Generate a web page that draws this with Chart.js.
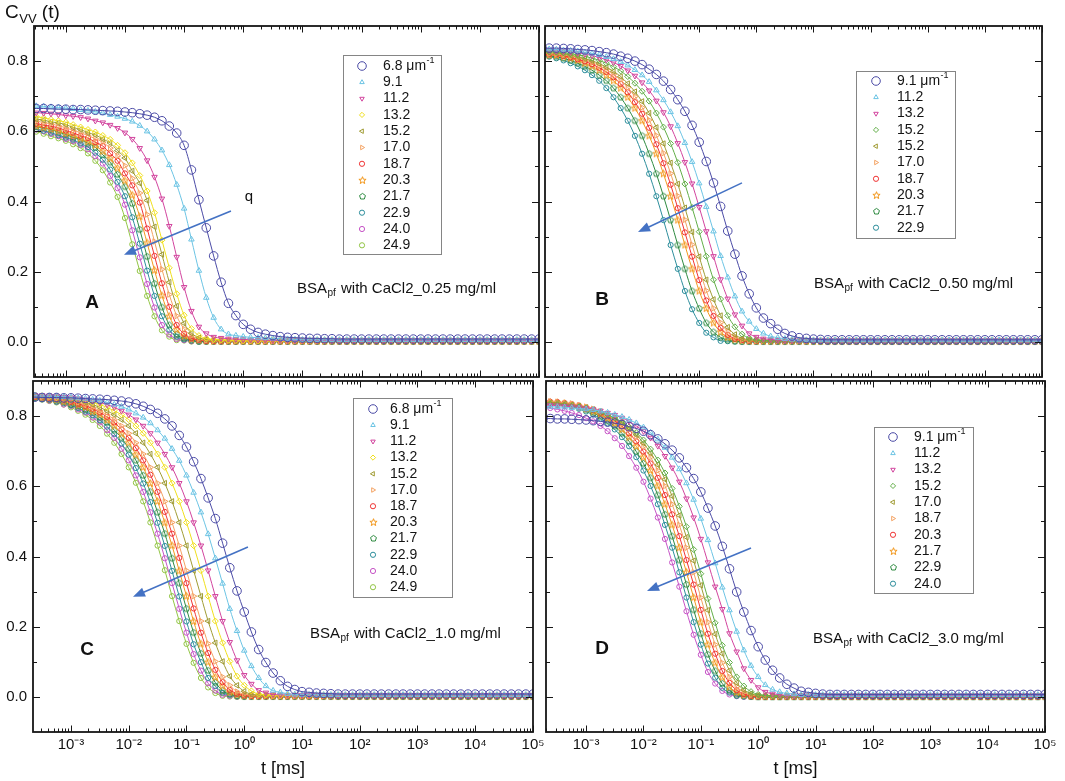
<!DOCTYPE html>
<html>
<head>
<meta charset="utf-8">
<title>C_VV(t) of BSA_pf with CaCl2</title>
<script src="https://cdn.jsdelivr.net/npm/chart.js@4.4.1/dist/chart.umd.min.js"></script>
<style>
  html, body { margin:0; padding:0; background:#ffffff; }
  #wrap { position:relative; width:1065px; height:781px; overflow:hidden; background:#ffffff; }
  #wrap canvas { position:absolute; left:0; top:0; }
</style>
</head>
<body>
<div id="wrap">
  <canvas id="panelA" width="1065" height="781"></canvas>
  <canvas id="panelB" width="1065" height="781"></canvas>
  <canvas id="panelC" width="1065" height="781"></canvas>
  <canvas id="panelD" width="1065" height="781"></canvas>
</div>
<script>
// ---------------- DATA ----------------
// delay time t [ms], 8 samples per decade
const tMs = [
 0.000178,0.000237,0.000316,0.000422,0.000562,0.00075,0.001,0.00133,0.00178,0.00237,
 0.00316,0.00422,0.00562,0.0075,0.01,0.0133,0.0178,0.0237,0.0316,0.0422,
 0.0562,0.075,0.1,0.133,0.178,0.237,0.316,0.422,0.562,0.75,
 1,1.33,1.78,2.37,3.16,4.22,5.62,7.5,10,13.3,
 17.8,23.7,31.6,42.2,56.2,75,100,133,178,237,
 316,422,562,750,1000,1330,1780,2370,3160,4220,
 5620,7500,10000,13300,17800,23700,31600,42200,56200,75000,
 100000];

// axis ticks / labels
const xDecades = [1e-4,1e-3,1e-2,1e-1,1,10,100,1e3,1e4,1e5];
const xMinorFactors = [2,3,4,5,6,7,8,9];
const xLabelValues = [1e-3,1e-2,1e-1,1,10,100,1e3,1e4,1e5];
const xTickLabels = ['10⁻³','10⁻²','10⁻¹','10⁰','10¹','10²','10³','10⁴','10⁵'];
const yTickValues = [0,0.2,0.4,0.6,0.8];
const yTickLabels = ['0.0','0.2','0.4','0.6','0.8'];
const yMinorValues = [0.1,0.3,0.5,0.7];
const xTitle = 't [ms]';

// ---- panel A : CaCl2 0.25 mg/ml (q in µm^-1)
const qA = ['6.8','9.1','11.2','13.2','15.2','17.0','18.7','20.3','21.7','22.9','24.0','24.9'];
const A_6_8 = [0.665,0.665,
 0.665,0.665,0.664,0.663,0.663,0.662,0.662,0.661,0.660,0.659,
 0.658,0.657,0.655,0.653,0.650,0.646,0.640,0.630,0.615,0.595,
 0.560,0.490,0.405,0.325,0.245,0.170,0.110,0.075,0.050,0.036,
 0.027,0.022,0.018,0.015,0.013,0.012,0.011,0.010,0.010,0.009,
 0.009,0.008,
 0.008,0.008,0.008,0.008,0.008,0.008,0.008,0.008,0.008,0.008,
 0.008,0.008,0.008,0.008,0.008,0.008,0.008,0.008,0.008,0.008,
 0.008,0.008,0.008,0.008,0.008,0.008,0.008];
const A_9_1 = [0.673,0.673,
 0.672,0.671,0.669,0.668,0.666,0.664,0.661,0.659,0.656,0.652,
 0.647,0.642,0.636,0.628,0.616,0.600,0.577,0.546,0.504,0.448,
 0.380,0.292,0.203,0.126,0.069,0.036,0.022,0.018,0.015,0.013,
 0.012,0.011,0.010,0.009,0.008,0.007,
 0.006,0.006,0.006,0.006,0.006,0.006,0.006,0.006,0.006,0.006,
 0.006,0.006,0.006,0.006,0.006,0.006,0.006,0.006,0.006,0.006,
 0.006,0.006,0.006,0.006,0.006,0.006,0.006,0.006,0.006,0.006,
 0.006,0.006,0.006];
const A_11_2 = [0.658,0.655,
 0.653,0.652,0.650,0.648,0.645,0.643,0.640,0.636,0.630,0.625,
 0.618,0.609,0.596,0.578,0.552,0.517,0.470,0.408,0.330,0.242,
 0.156,0.088,0.043,0.024,0.014,0.011,0.009,0.008,0.007,0.006,
 0.006,0.005,
 0.004,0.004,0.004,0.004,0.004,0.004,0.004,0.004,0.004,0.004,
 0.004,0.004,0.004,0.004,0.004,0.004,0.004,0.004,0.004,0.004,
 0.004,0.004,0.004,0.004,0.004,0.004,0.004,0.004,0.004,0.004,
 0.004,0.004,0.004,0.004,0.004,0.004,0.004];
const A_13_2 = [0.650,0.645,
 0.642,0.638,0.634,0.630,0.626,0.619,0.612,0.605,0.598,0.588,
 0.577,0.560,0.539,0.510,0.474,0.430,0.368,0.290,0.211,0.137,
 0.076,0.038,0.018,0.010,0.007,0.006,0.005,0.004,
 0.003,0.003,0.003,0.003,0.003,0.003,0.003,0.003,0.003,0.003,
 0.003,0.003,0.003,0.003,0.003,0.003,0.003,0.003,0.003,0.003,
 0.003,0.003,0.003,0.003,0.003,0.003,0.003,0.003,0.003,0.003,
 0.003,0.003,0.003,0.003,0.003,0.003,0.003,0.003,0.003,0.003,
 0.003];
const A_15_2 = [0.638,0.636,
 0.635,0.632,0.627,0.624,0.619,0.611,0.605,0.596,0.590,0.578,
 0.567,0.545,0.524,0.487,0.452,0.403,0.328,0.249,0.170,0.102,
 0.053,0.025,0.012,0.007,0.005,0.004,
 0.003,0.003,0.003,0.003,0.003,0.003,0.003,0.003,0.003,0.003,
 0.003,0.003,0.003,0.003,0.003,0.003,0.003,0.003,0.003,0.003,
 0.003,0.003,0.003,0.003,0.003,0.003,0.003,0.003,0.003,0.003,
 0.003,0.003,0.003,0.003,0.003,0.003,0.003,0.003,0.003,0.003,
 0.003,0.003,0.003];
const A_17_0 = [0.635,0.632,
 0.629,0.625,0.621,0.616,0.610,0.603,0.596,0.588,0.579,0.569,
 0.552,0.530,0.502,0.466,0.424,0.363,0.286,0.207,0.135,0.074,
 0.037,0.018,0.008,0.005,
 0.003,0.003,0.003,0.003,0.003,0.003,0.003,0.003,0.003,0.003,
 0.003,0.003,0.003,0.003,0.003,0.003,0.003,0.003,0.003,0.003,
 0.003,0.003,0.003,0.003,0.003,0.003,0.003,0.003,0.003,0.003,
 0.003,0.003,0.003,0.003,0.003,0.003,0.003,0.003,0.003,0.003,
 0.003,0.003,0.003,0.003,0.003];
const A_18_7 = [0.632,0.626,
 0.622,0.618,0.614,0.610,0.602,0.596,0.587,0.581,0.569,0.558,
 0.537,0.516,0.480,0.446,0.397,0.323,0.245,0.167,0.100,0.048,
 0.023,0.010,0.006,0.003,
 0.002,0.002,0.002,0.002,0.002,0.002,0.002,0.002,0.002,0.002,
 0.002,0.002,0.002,0.002,0.002,0.002,0.002,0.002,0.002,0.002,
 0.002,0.002,0.002,0.002,0.002,0.002,0.002,0.002,0.002,0.002,
 0.002,0.002,0.002,0.002,0.002,0.002,0.002,0.002,0.002,0.002,
 0.002,0.002,0.002,0.002,0.002];
const A_20_3 = [0.624,0.618,
 0.615,0.611,0.606,0.601,0.594,0.587,0.579,0.570,0.560,0.543,
 0.522,0.495,0.459,0.418,0.357,0.282,0.204,0.132,0.073,0.035,
 0.016,0.008,0.005,0.003,
 0.002,0.002,0.002,0.002,0.002,0.002,0.002,0.002,0.002,0.002,
 0.002,0.002,0.002,0.002,0.002,0.002,0.002,0.002,0.002,0.002,
 0.002,0.002,0.002,0.002,0.002,0.002,0.002,0.002,0.002,0.002,
 0.002,0.002,0.002,0.002,0.002,0.002,0.002,0.002,0.002,0.002,
 0.002,0.002,0.002,0.002,0.002];
const A_21_7 = [0.622,0.616,
 0.613,0.610,0.605,0.598,0.591,0.583,0.576,0.566,0.554,0.533,
 0.512,0.477,0.442,0.394,0.320,0.243,0.166,0.099,0.048,0.021,
 0.010,0.005,
 0.002,0.002,0.002,0.002,0.002,0.002,0.002,0.002,0.002,0.002,
 0.002,0.002,0.002,0.002,0.002,0.002,0.002,0.002,0.002,0.002,
 0.002,0.002,0.002,0.002,0.002,0.002,0.002,0.002,0.002,0.002,
 0.002,0.002,0.002,0.002,0.002,0.002,0.002,0.002,0.002,0.002,
 0.002,0.002,0.002,0.002,0.002,0.002,0.002];
const A_22_9 = [0.616,0.609,
 0.606,0.602,0.596,0.589,0.582,0.576,0.565,0.555,0.539,0.519,
 0.491,0.456,0.415,0.355,0.280,0.203,0.131,0.073,0.035,0.015,
 0.007,0.004,
 0.001,0.001,0.001,0.001,0.001,0.001,0.001,0.001,0.001,0.001,
 0.001,0.001,0.001,0.001,0.001,0.001,0.001,0.001,0.001,0.001,
 0.001,0.001,0.001,0.001,0.001,0.001,0.001,0.001,0.001,0.001,
 0.001,0.001,0.001,0.001,0.001,0.001,0.001,0.001,0.001,0.001,
 0.001,0.001,0.001,0.001,0.001,0.001,0.001];
const A_24_0 = [0.614,0.608,
 0.605,0.600,0.593,0.586,0.578,0.572,0.561,0.549,0.529,0.508,
 0.473,0.438,0.391,0.318,0.241,0.165,0.098,0.048,0.021,0.008,
 0.005,0.002,
 0.001,0.001,0.001,0.001,0.001,0.001,0.001,0.001,0.001,0.001,
 0.001,0.001,0.001,0.001,0.001,0.001,0.001,0.001,0.001,0.001,
 0.001,0.001,0.001,0.001,0.001,0.001,0.001,0.001,0.001,0.001,
 0.001,0.001,0.001,0.001,0.001,0.001,0.001,0.001,0.001,0.001,
 0.001,0.001,0.001,0.001,0.001,0.001,0.001];
const A_24_9 = [0.608,0.602,
 0.599,0.593,0.586,0.580,0.573,0.563,0.552,0.537,0.516,0.489,
 0.454,0.413,0.353,0.278,0.202,0.131,0.073,0.033,0.015,0.005,
 0.004,0.001,
 0,0,0,0,0,0,0,0,0,0,
 0,0,0,0,0,0,0,0,0,0,
 0,0,0,0,0,0,0,0,0,0,
 0,0,0,0,0,0,0,0,0,0,
 0,0,0,0,0,0,0];

// ---- panel B : CaCl2 0.50 mg/ml
const qB = ['9.1','11.2','13.2','15.2','15.2','17.0','18.7','20.3','21.7','22.9'];
const B_9_1 = [0.837,0.837,
 0.837,0.836,0.835,0.833,0.832,0.830,0.827,0.824,0.820,0.814,
 0.808,0.800,0.790,0.777,0.762,0.743,0.719,0.690,0.657,0.617,
 0.569,0.514,0.453,0.386,0.316,0.250,0.188,0.137,0.097,0.068,
 0.052,0.036,0.024,0.017,0.012,0.010,0.008,0.007,
 0.006,0.006,0.006,0.006,0.006,0.006,0.006,0.006,0.006,0.006,
 0.006,0.006,0.006,0.006,0.006,0.006,0.006,0.006,0.006,0.006,
 0.006,0.006,0.006,0.006,0.006,0.006,0.006,0.006,0.006,0.006,
 0.006];
const B_11_2 = [0.835,0.834,
 0.833,0.831,0.830,0.828,0.825,0.822,0.818,0.812,0.806,0.798,
 0.788,0.775,0.760,0.741,0.717,0.689,0.655,0.615,0.567,0.513,
 0.452,0.385,0.315,0.245,0.184,0.130,0.087,0.058,0.037,0.024,
 0.016,0.012,0.009,0.007,
 0.005,0.005,0.005,0.005,0.005,0.005,0.005,0.005,0.005,0.005,
 0.005,0.005,0.005,0.005,0.005,0.005,0.005,0.005,0.005,0.005,
 0.005,0.005,0.005,0.005,0.005,0.005,0.005,0.005,0.005,0.005,
 0.005,0.005,0.005,0.005,0.005];
const B_13_2 = [0.832,0.831,
 0.829,0.828,0.826,0.823,0.820,0.816,0.810,0.804,0.796,0.786,
 0.773,0.758,0.739,0.716,0.687,0.654,0.614,0.566,0.512,0.451,
 0.384,0.315,0.244,0.178,0.123,0.078,0.046,0.024,0.014,0.009,
 0.007,0.005,
 0.004,0.004,0.004,0.004,0.004,0.004,0.004,0.004,0.004,0.004,
 0.004,0.004,0.004,0.004,0.004,0.004,0.004,0.004,0.004,0.004,
 0.004,0.004,0.004,0.004,0.004,0.004,0.004,0.004,0.004,0.004,
 0.004,0.004,0.004,0.004,0.004,0.004,0.004];
const B_15_2d = [0.828,0.827,
 0.826,0.824,0.821,0.818,0.814,0.808,0.802,0.794,0.784,0.772,
 0.756,0.737,0.714,0.686,0.652,0.612,0.565,0.511,0.450,0.383,
 0.314,0.244,0.177,0.122,0.075,0.043,0.022,0.011,0.006,0.004,
 0.003,0.003,0.003,0.003,0.003,0.003,0.003,0.003,0.003,0.003,
 0.003,0.003,0.003,0.003,0.003,0.003,0.003,0.003,0.003,0.003,
 0.003,0.003,0.003,0.003,0.003,0.003,0.003,0.003,0.003,0.003,
 0.003,0.003,0.003,0.003,0.003,0.003,0.003,0.003,0.003];
const B_15_2o = [0.824,0.824,
 0.823,0.821,0.817,0.813,0.807,0.801,0.793,0.783,0.771,0.756,
 0.736,0.713,0.685,0.652,0.611,0.565,0.510,0.450,0.382,0.313,
 0.243,0.177,0.121,0.075,0.042,0.021,0.010,0.006,0.004,0.003,
 0.003,0.003,0.003,0.003,0.003,0.003,0.003,0.003,0.003,0.003,
 0.003,0.003,0.003,0.003,0.003,0.003,0.003,0.003,0.003,0.003,
 0.003,0.003,0.003,0.003,0.003,0.003,0.003,0.003,0.003,0.003,
 0.003,0.003,0.003,0.003,0.003,0.003,0.003,0.003,0.003];
const B_17_0 = [0.821,0.821,
 0.820,0.818,0.814,0.810,0.804,0.796,0.787,0.776,0.762,0.746,
 0.725,0.699,0.668,0.632,0.588,0.538,0.480,0.416,0.348,0.277,
 0.209,0.146,0.096,0.055,0.030,0.014,0.006,0.004,
 0.003,0.003,0.003,0.003,0.003,0.003,0.003,0.003,0.003,0.003,
 0.003,0.003,0.003,0.003,0.003,0.003,0.003,0.003,0.003,0.003,
 0.003,0.003,0.003,0.003,0.003,0.003,0.003,0.003,0.003,0.003,
 0.003,0.003,0.003,0.003,0.003,0.003,0.003,0.003,0.003,0.003,
 0.003];
const B_18_7 = [0.819,0.819,
 0.819,0.815,0.811,0.805,0.799,0.791,0.781,0.769,0.754,0.735,
 0.711,0.683,0.650,0.610,0.563,0.509,0.448,0.381,0.312,0.243,
 0.176,0.118,0.074,0.040,0.020,0.009,0.005,0.003,
 0.002,0.002,0.002,0.002,0.002,0.002,0.002,0.002,0.002,0.002,
 0.002,0.002,0.002,0.002,0.002,0.002,0.002,0.002,0.002,0.002,
 0.002,0.002,0.002,0.002,0.002,0.002,0.002,0.002,0.002,0.002,
 0.002,0.002,0.002,0.002,0.002,0.002,0.002,0.002,0.002,0.002,
 0.002];
const B_20_3 = [0.817,0.817,
 0.816,0.812,0.808,0.802,0.794,0.785,0.774,0.760,0.744,0.723,
 0.697,0.666,0.630,0.587,0.536,0.479,0.415,0.347,0.276,0.208,
 0.145,0.095,0.054,0.028,0.013,0.006,0.003,0.002,
 0.002,0.002,0.002,0.002,0.002,0.002,0.002,0.002,0.002,0.002,
 0.002,0.002,0.002,0.002,0.002,0.002,0.002,0.002,0.002,0.002,
 0.002,0.002,0.002,0.002,0.002,0.002,0.002,0.002,0.002,0.002,
 0.002,0.002,0.002,0.002,0.002,0.002,0.002,0.002,0.002,0.002,
 0.002];
const B_21_7 = [0.817,0.815,
 0.812,0.808,0.802,0.794,0.785,0.774,0.760,0.744,0.723,0.697,
 0.666,0.630,0.587,0.536,0.479,0.415,0.347,0.276,0.208,0.145,
 0.095,0.054,0.028,0.013,0.005,0.002,
 0.001,0.001,0.001,0.001,0.001,0.001,0.001,0.001,0.001,0.001,
 0.001,0.001,0.001,0.001,0.001,0.001,0.001,0.001,0.001,0.001,
 0.001,0.001,0.001,0.001,0.001,0.001,0.001,0.001,0.001,0.001,
 0.001,0.001,0.001,0.001,0.001,0.001,0.001,0.001,0.001,0.001,
 0.001,0.001,0.001];
const B_22_9 = [0.816,0.813,
 0.808,0.802,0.794,0.785,0.774,0.760,0.744,0.723,0.697,0.666,
 0.630,0.587,0.536,0.479,0.415,0.347,0.276,0.208,0.145,0.093,
 0.054,0.026,0.013,0.003,0.002,0.001,
 0,0,0,0,0,0,0,0,0,0,
 0,0,0,0,0,0,0,0,0,0,
 0,0,0,0,0,0,0,0,0,0,
 0,0,0,0,0,0,0,0,0,0,
 0,0,0];

// ---- panel C : CaCl2 1.0 mg/ml
const qC = ['6.8','9.1','11.2','13.2','15.2','17.0','18.7','20.3','21.7','22.9','24.0','24.9'];
const C_6_8 = [0.854,0.854,
 0.853,0.853,0.853,0.852,0.852,0.851,0.850,0.849,0.848,0.847,
 0.845,0.843,0.840,0.835,0.828,0.819,0.808,0.792,0.772,0.745,
 0.712,0.670,0.622,0.567,0.508,0.438,0.368,0.302,0.242,0.185,
 0.135,0.098,0.068,0.046,0.030,0.021,0.015,0.013,0.011,0.010,
 0.009,0.008,
 0.008,0.008,0.008,0.008,0.008,0.008,0.008,0.008,0.008,0.008,
 0.008,0.008,0.008,0.008,0.008,0.008,0.008,0.008,0.008,0.008,
 0.008,0.008,0.008,0.008,0.008,0.008,0.008];
const C_9_1 = [0.858,0.858,
 0.857,0.857,0.856,0.855,0.853,0.851,0.850,0.847,0.844,0.839,
 0.833,0.827,0.819,0.808,0.796,0.780,0.760,0.736,0.707,0.673,
 0.631,0.582,0.526,0.464,0.395,0.323,0.251,0.188,0.132,0.088,
 0.054,0.031,0.018,0.013,0.009,0.007,
 0.006,0.006,0.006,0.006,0.006,0.006,0.006,0.006,0.006,0.006,
 0.006,0.006,0.006,0.006,0.006,0.006,0.006,0.006,0.006,0.006,
 0.006,0.006,0.006,0.006,0.006,0.006,0.006,0.006,0.006,0.006,
 0.006,0.006,0.006];
const C_11_2 = [0.859,0.859,
 0.859,0.858,0.856,0.854,0.853,0.850,0.847,0.843,0.839,0.833,
 0.825,0.815,0.804,0.790,0.772,0.751,0.724,0.692,0.654,0.609,
 0.557,0.497,0.431,0.360,0.287,0.216,0.156,0.104,0.062,0.037,
 0.019,0.012,0.007,0.006,
 0.005,0.005,0.005,0.005,0.005,0.005,0.005,0.005,0.005,0.005,
 0.005,0.005,0.005,0.005,0.005,0.005,0.005,0.005,0.005,0.005,
 0.005,0.005,0.005,0.005,0.005,0.005,0.005,0.005,0.005,0.005,
 0.005,0.005,0.005,0.005,0.005];
const C_13_2 = [0.859,0.859,
 0.858,0.856,0.854,0.853,0.850,0.847,0.843,0.839,0.833,0.825,
 0.815,0.804,0.790,0.772,0.751,0.724,0.692,0.654,0.609,0.557,
 0.497,0.431,0.360,0.287,0.216,0.154,0.101,0.059,0.033,0.017,
 0.008,0.006,
 0.004,0.004,0.004,0.004,0.004,0.004,0.004,0.004,0.004,0.004,
 0.004,0.004,0.004,0.004,0.004,0.004,0.004,0.004,0.004,0.004,
 0.004,0.004,0.004,0.004,0.004,0.004,0.004,0.004,0.004,0.004,
 0.004,0.004,0.004,0.004,0.004,0.004,0.004];
const C_15_2 = [0.859,0.858,
 0.856,0.854,0.853,0.850,0.847,0.843,0.839,0.833,0.825,0.815,
 0.804,0.790,0.772,0.751,0.724,0.692,0.654,0.609,0.557,0.497,
 0.431,0.360,0.287,0.216,0.154,0.101,0.059,0.033,0.016,0.008,
 0.005,0.004,
 0.003,0.003,0.003,0.003,0.003,0.003,0.003,0.003,0.003,0.003,
 0.003,0.003,0.003,0.003,0.003,0.003,0.003,0.003,0.003,0.003,
 0.003,0.003,0.003,0.003,0.003,0.003,0.003,0.003,0.003,0.003,
 0.003,0.003,0.003,0.003,0.003,0.003,0.003];
const C_17_0 = [0.858,0.856,
 0.854,0.853,0.850,0.847,0.843,0.839,0.833,0.825,0.815,0.804,
 0.790,0.772,0.751,0.724,0.692,0.654,0.609,0.557,0.497,0.431,
 0.360,0.287,0.216,0.152,0.101,0.057,0.033,0.015,0.008,0.004,
 0.003,0.003,0.003,0.003,0.003,0.003,0.003,0.003,0.003,0.003,
 0.003,0.003,0.003,0.003,0.003,0.003,0.003,0.003,0.003,0.003,
 0.003,0.003,0.003,0.003,0.003,0.003,0.003,0.003,0.003,0.003,
 0.003,0.003,0.003,0.003,0.003,0.003,0.003,0.003,0.003];
const C_18_7 = [0.856,0.855,
 0.853,0.852,0.849,0.846,0.841,0.835,0.829,0.821,0.810,0.798,
 0.782,0.762,0.738,0.709,0.674,0.633,0.584,0.527,0.465,0.396,
 0.324,0.252,0.183,0.125,0.077,0.042,0.020,0.009,0.004,0.003,
 0.002,0.002,0.002,0.002,0.002,0.002,0.002,0.002,0.002,0.002,
 0.002,0.002,0.002,0.002,0.002,0.002,0.002,0.002,0.002,0.002,
 0.002,0.002,0.002,0.002,0.002,0.002,0.002,0.002,0.002,0.002,
 0.002,0.002,0.002,0.002,0.002,0.002,0.002,0.002,0.002];
const C_20_3 = [0.856,0.855,
 0.853,0.848,0.847,0.841,0.839,0.831,0.825,0.813,0.804,0.788,
 0.772,0.749,0.724,0.690,0.654,0.608,0.557,0.496,0.431,0.359,
 0.287,0.215,0.151,0.099,0.056,0.031,0.013,0.006,0.003,0.002,
 0.002,0.002,0.002,0.002,0.002,0.002,0.002,0.002,0.002,0.002,
 0.002,0.002,0.002,0.002,0.002,0.002,0.002,0.002,0.002,0.002,
 0.002,0.002,0.002,0.002,0.002,0.002,0.002,0.002,0.002,0.002,
 0.002,0.002,0.002,0.002,0.002,0.002,0.002,0.002,0.002];
const C_21_7 = [0.855,0.852,
 0.850,0.849,0.844,0.841,0.833,0.829,0.819,0.810,0.796,0.782,
 0.760,0.738,0.707,0.674,0.631,0.584,0.526,0.465,0.395,0.324,
 0.251,0.183,0.124,0.075,0.041,0.018,0.008,0.003,
 0.001,0.001,0.001,0.001,0.001,0.001,0.001,0.001,0.001,0.001,
 0.001,0.001,0.001,0.001,0.001,0.001,0.001,0.001,0.001,0.001,
 0.001,0.001,0.001,0.001,0.001,0.001,0.001,0.001,0.001,0.001,
 0.001,0.001,0.001,0.001,0.001,0.001,0.001,0.001,0.001,0.001,
 0.001];
const C_22_9 = [0.856,0.852,
 0.848,0.846,0.841,0.837,0.831,0.823,0.813,0.802,0.788,0.770,
 0.749,0.722,0.690,0.652,0.608,0.555,0.496,0.430,0.359,0.286,
 0.215,0.150,0.099,0.054,0.031,0.012,0.006,0.002,
 0.001,0.001,0.001,0.001,0.001,0.001,0.001,0.001,0.001,0.001,
 0.001,0.001,0.001,0.001,0.001,0.001,0.001,0.001,0.001,0.001,
 0.001,0.001,0.001,0.001,0.001,0.001,0.001,0.001,0.001,0.001,
 0.001,0.001,0.001,0.001,0.001,0.001,0.001,0.001,0.001,0.001,
 0.001];
const C_24_0 = [0.855,0.852,
 0.849,0.844,0.841,0.833,0.829,0.819,0.810,0.796,0.782,0.760,
 0.738,0.707,0.674,0.631,0.584,0.526,0.465,0.395,0.324,0.251,
 0.183,0.122,0.075,0.039,0.018,0.006,0.003,0.001,
 0.001,0.001,0.001,0.001,0.001,0.001,0.001,0.001,0.001,0.001,
 0.001,0.001,0.001,0.001,0.001,0.001,0.001,0.001,0.001,0.001,
 0.001,0.001,0.001,0.001,0.001,0.001,0.001,0.001,0.001,0.001,
 0.001,0.001,0.001,0.001,0.001,0.001,0.001,0.001,0.001,0.001,
 0.001];
const C_24_9 = [0.855,0.851,
 0.847,0.843,0.839,0.833,0.825,0.815,0.804,0.789,0.772,0.750,
 0.724,0.692,0.654,0.610,0.557,0.497,0.431,0.361,0.287,0.216,
 0.151,0.097,0.054,0.027,0.011,0.003,0.001,0,
 0,0,0,0,0,0,0,0,0,0,
 0,0,0,0,0,0,0,0,0,0,
 0,0,0,0,0,0,0,0,0,0,
 0,0,0,0,0,0,0,0,0,0,
 0];

// ---- panel D : CaCl2 3.0 mg/ml
const qD = ['9.1','11.2','13.2','15.2','17.0','18.7','20.3','21.7','22.9','24.0'];
const D_9_1 = [0.793,0.793,
 0.792,0.792,0.791,0.790,0.789,0.787,0.785,0.783,0.780,0.776,
 0.770,0.765,0.757,0.747,0.735,0.721,0.703,0.681,0.653,0.622,
 0.584,0.538,0.487,0.429,0.365,0.299,0.242,0.189,0.143,0.105,
 0.076,0.054,0.036,0.025,0.016,0.013,0.010,0.008,
 0.007,0.007,0.007,0.007,0.007,0.007,0.007,0.007,0.007,0.007,
 0.007,0.007,0.007,0.007,0.007,0.007,0.007,0.007,0.007,0.007,
 0.007,0.007,0.007,0.007,0.007,0.007,0.007,0.007,0.007,0.007,
 0.007];
const D_11_2 = [0.827,0.827,
 0.826,0.825,0.823,0.822,0.820,0.818,0.814,0.810,0.804,0.798,
 0.790,0.780,0.768,0.753,0.734,0.710,0.682,0.649,0.609,0.562,
 0.508,0.447,0.381,0.312,0.247,0.186,0.133,0.089,0.057,0.034,
 0.021,0.014,0.010,0.008,
 0.006,0.006,0.006,0.006,0.006,0.006,0.006,0.006,0.006,0.006,
 0.006,0.006,0.006,0.006,0.006,0.006,0.006,0.006,0.006,0.006,
 0.006,0.006,0.006,0.006,0.006,0.006,0.006,0.006,0.006,0.006,
 0.006,0.006,0.006,0.006,0.006];
const D_13_2 = [0.831,0.831,
 0.830,0.828,0.827,0.825,0.822,0.819,0.815,0.809,0.803,0.795,
 0.785,0.772,0.757,0.738,0.715,0.686,0.653,0.613,0.565,0.511,
 0.450,0.383,0.314,0.250,0.181,0.129,0.081,0.048,0.027,0.014,
 0.009,0.006,
 0.004,0.004,0.004,0.004,0.004,0.004,0.004,0.004,0.004,0.004,
 0.004,0.004,0.004,0.004,0.004,0.004,0.004,0.004,0.004,0.004,
 0.004,0.004,0.004,0.004,0.004,0.004,0.004,0.004,0.004,0.004,
 0.004,0.004,0.004,0.004,0.004,0.004,0.004];
const D_15_2 = [0.835,0.834,
 0.832,0.831,0.828,0.826,0.822,0.817,0.811,0.804,0.795,0.784,
 0.769,0.753,0.732,0.706,0.675,0.638,0.594,0.543,0.485,0.420,
 0.351,0.280,0.211,0.147,0.098,0.057,0.031,0.015,0.007,0.004,
 0.003,0.003,0.003,0.003,0.003,0.003,0.003,0.003,0.003,0.003,
 0.003,0.003,0.003,0.003,0.003,0.003,0.003,0.003,0.003,0.003,
 0.003,0.003,0.003,0.003,0.003,0.003,0.003,0.003,0.003,0.003,
 0.003,0.003,0.003,0.003,0.003,0.003,0.003,0.003,0.003];
const D_17_0 = [0.839,0.838,
 0.837,0.835,0.832,0.829,0.825,0.819,0.813,0.804,0.794,0.781,
 0.766,0.747,0.723,0.695,0.661,0.620,0.572,0.517,0.455,0.388,
 0.318,0.247,0.179,0.123,0.075,0.040,0.020,0.009,0.004,0.003,
 0.002,0.002,0.002,0.002,0.002,0.002,0.002,0.002,0.002,0.002,
 0.002,0.002,0.002,0.002,0.002,0.002,0.002,0.002,0.002,0.002,
 0.002,0.002,0.002,0.002,0.002,0.002,0.002,0.002,0.002,0.002,
 0.002,0.002,0.002,0.002,0.002,0.002,0.002,0.002,0.002];
const D_18_7 = [0.843,0.842,
 0.841,0.838,0.836,0.831,0.827,0.821,0.813,0.804,0.793,0.779,
 0.762,0.740,0.714,0.683,0.645,0.601,0.549,0.490,0.425,0.355,
 0.283,0.213,0.149,0.097,0.057,0.029,0.013,0.006,0.003,0.002,
 0.002,0.002,0.002,0.002,0.002,0.002,0.002,0.002,0.002,0.002,
 0.002,0.002,0.002,0.002,0.002,0.002,0.002,0.002,0.002,0.002,
 0.002,0.002,0.002,0.002,0.002,0.002,0.002,0.002,0.002,0.002,
 0.002,0.002,0.002,0.002,0.002,0.002,0.002,0.002,0.002];
const D_20_3 = [0.842,0.841,
 0.840,0.837,0.834,0.830,0.824,0.818,0.809,0.799,0.786,0.771,
 0.751,0.728,0.699,0.665,0.624,0.575,0.520,0.458,0.390,0.320,
 0.248,0.180,0.123,0.074,0.040,0.019,0.008,0.003,
 0.001,0.001,0.001,0.001,0.001,0.001,0.001,0.001,0.001,0.001,
 0.001,0.001,0.001,0.001,0.001,0.001,0.001,0.001,0.001,0.001,
 0.001,0.001,0.001,0.001,0.001,0.001,0.001,0.001,0.001,0.001,
 0.001,0.001,0.001,0.001,0.001,0.001,0.001,0.001,0.001,0.001,
 0.001];
const D_21_7 = [0.840,0.839,
 0.838,0.836,0.831,0.827,0.821,0.813,0.804,0.793,0.779,0.762,
 0.740,0.714,0.683,0.645,0.601,0.549,0.490,0.425,0.355,0.283,
 0.213,0.149,0.097,0.056,0.028,0.013,0.005,0.002,
 0.001,0.001,0.001,0.001,0.001,0.001,0.001,0.001,0.001,0.001,
 0.001,0.001,0.001,0.001,0.001,0.001,0.001,0.001,0.001,0.001,
 0.001,0.001,0.001,0.001,0.001,0.001,0.001,0.001,0.001,0.001,
 0.001,0.001,0.001,0.001,0.001,0.001,0.001,0.001,0.001,0.001,
 0.001];
const D_22_9 = [0.839,0.838,
 0.837,0.834,0.830,0.824,0.818,0.809,0.799,0.786,0.771,0.751,
 0.728,0.699,0.665,0.624,0.575,0.520,0.458,0.390,0.320,0.248,
 0.180,0.121,0.074,0.038,0.018,0.006,0.003,0.001,
 0,0,0,0,0,0,0,0,0,0,
 0,0,0,0,0,0,0,0,0,0,
 0,0,0,0,0,0,0,0,0,0,
 0,0,0,0,0,0,0,0,0,0,
 0];
const D_24_0 = [0.842,0.839,
 0.836,0.831,0.827,0.821,0.813,0.804,0.793,0.779,0.762,0.740,
 0.714,0.683,0.645,0.601,0.549,0.490,0.425,0.355,0.283,0.213,
 0.149,0.095,0.055,0.026,0.012,0.003,0.001,0,
 0,0,0,0,0,0,0,0,0,0,
 0,0,0,0,0,0,0,0,0,0,
 0,0,0,0,0,0,0,0,0,0,
 0,0,0,0,0,0,0,0,0,0,
 0];
const D_extra = [0.828,0.823,
 0.819,0.815,0.809,0.803,0.794,0.785,0.772,0.757,0.737,0.715,
 0.686,0.653,0.613,0.565,0.511,0.450,0.383,0.314,0.244,0.177,
 0.120,0.071,0.038,0.017,0.007,0.002,
 0,0,0,0,0,0,0,0,0,0,
 0,0,0,0,0,0,0,0,0,0,
 0,0,0,0,0,0,0,0,0,0,
 0,0,0,0,0,0,0,0,0,0,
 0,0,0];

const concLabels = ['0.25','0.50','1.0','3.0'];
const panelLetters = ['A','B','C','D'];

// ---------------- STYLES ----------------
const FF = '"Liberation Sans", Arial, Helvetica, sans-serif';
Chart.defaults.font.family = FF;
Chart.defaults.color = '#111';

function shapeCanvas(type, color) {
  const c = document.createElement('canvas'); c.width = 11; c.height = 11;
  const g = c.getContext('2d'); g.strokeStyle = color; g.lineWidth = 1; g.beginPath();
  const cx = 5.5, cy = 5.5;
  if (type === 'star') {
    for (let k = 0; k < 10; k++) { const r = k % 2 ? 1.6 : 3.8; const an = -Math.PI / 2 + k * Math.PI / 5;
      const px = cx + r * Math.cos(an), py = cy + r * Math.sin(an); if (k) g.lineTo(px, py); else g.moveTo(px, py); }
  } else {
    for (let k = 0; k < 5; k++) { const an = -Math.PI / 2 + k * 2 * Math.PI / 5;
      const px = cx + 3.1 * Math.cos(an), py = cy + 3.1 * Math.sin(an); if (k) g.lineTo(px, py); else g.moveTo(px, py); }
  }
  g.closePath(); g.stroke(); return c;
}

const STY = {
  navyC: { color:'#4b4ba6', ps:'circle', r:4.3 },
  lbT:   { color:'#6cc4e4', ps:'triangle', r:3.2 },
  magD:  { color:'#d2449e', ps:'triangle', rot:180, r:3.2 },
  yelD:  { color:'#f0df1c', ps:'rectRot', r:3.0 },
  olvL:  { color:'#a09c34', ps:'triangle', rot:270, r:3.2 },
  orgR:  { color:'#f4a262', ps:'triangle', rot:90, r:3.2 },
  redC:  { color:'#f03434', ps:'circle', r:2.6 },
  orgS:  { color:'#f2981e', ps:'star', r:3.0 },
  grnP:  { color:'#2e8a40', ps:'pent', r:2.8 },
  tealC: { color:'#2d8e9c', ps:'circle', r:2.6 },
  magC:  { color:'#c653c6', ps:'circle', r:2.6 },
  lgC:   { color:'#92c545', ps:'circle', r:2.6 },
  grnD:  { color:'#62ae48', ps:'rectRot', r:3.0 }
};
STY.orgS.img = shapeCanvas('star', STY.orgS.color);
STY.grnP.img = shapeCanvas('pent', STY.grnP.color);

const kindsAC = ['navyC','lbT','magD','yelD','olvL','orgR','redC','orgS','grnP','tealC','magC','lgC'];
const kindsBD = ['navyC','lbT','magD','grnD','olvL','orgR','redC','orgS','grnP','tealC'];

function mk(labels, arrays, kinds) { return arrays.map((v, i) => ({ label: labels[i], values: v, kind: kinds[i] })); }

const seriesA = mk(qA, [A_6_8,A_9_1,A_11_2,A_13_2,A_15_2,A_17_0,A_18_7,A_20_3,A_21_7,A_22_9,A_24_0,A_24_9], kindsAC);
const seriesB = mk(qB, [B_9_1,B_11_2,B_13_2,B_15_2d,B_15_2o,B_17_0,B_18_7,B_20_3,B_21_7,B_22_9], kindsBD);
const seriesC = mk(qC, [C_6_8,C_9_1,C_11_2,C_13_2,C_15_2,C_17_0,C_18_7,C_20_3,C_21_7,C_22_9,C_24_0,C_24_9], kindsAC);
const seriesD = mk(qD, [D_9_1,D_11_2,D_13_2,D_15_2,D_17_0,D_18_7,D_20_3,D_21_7,D_22_9,D_24_0], kindsBD);
seriesD.push({ label: '', values: D_extra, kind: 'magC', noLegend: true });

// ---------------- DRAW HELPERS ----------------
function drawMarker(ctx, st, x, y, r) {
  ctx.save(); ctx.strokeStyle = st.color; ctx.lineWidth = 1;
  if (st.img) { ctx.drawImage(st.img, Math.round(x - st.img.width / 2), Math.round(y - st.img.height / 2)); ctx.restore(); return; }
  ctx.beginPath();
  if (st.ps === 'circle') ctx.arc(x, y, r, 0, Math.PI * 2);
  else if (st.ps === 'triangle') {
    const rad = (st.rot || 0) * Math.PI / 180;
    for (let k = 0; k < 3; k++) { const an = rad + k * 2 * Math.PI / 3; const px = x + Math.sin(an) * r, py = y - Math.cos(an) * r; if (k) ctx.lineTo(px, py); else ctx.moveTo(px, py); }
    ctx.closePath();
  } else if (st.ps === 'rectRot') { ctx.moveTo(x, y - r); ctx.lineTo(x + r, y); ctx.lineTo(x, y + r); ctx.lineTo(x - r, y); ctx.closePath(); }
  ctx.stroke(); ctx.restore();
}

function drawNote(ctx, x, y, conc) {
  ctx.save(); ctx.fillStyle = '#111'; ctx.textAlign = 'left'; ctx.textBaseline = 'alphabetic';
  const base = y + 5;
  ctx.font = '15px ' + FF; ctx.fillText('BSA', x, base); let w = ctx.measureText('BSA').width;
  ctx.font = '10px ' + FF; ctx.fillText('pf', x + w + 0.5, base + 3); w += ctx.measureText('pf').width + 1.5;
  ctx.font = '15px ' + FF; ctx.fillText(' with CaCl2_' + conc + ' mg/ml', x + w, base);
  ctx.restore();
}

const DECOR = {};
const decorPlugin = {
  id: 'decor',
  afterDraw(chart) {
    const P = DECOR[chart.canvas.id]; if (!P) return;
    const ctx = chart.ctx, a = chart.chartArea, xs = chart.scales.x, ys = chart.scales.y;
    ctx.save();
    ctx.strokeStyle = '#161616'; ctx.lineWidth = 1; ctx.beginPath();
    const vt = (px, len) => { ctx.moveTo(px, a.bottom); ctx.lineTo(px, a.bottom - len); ctx.moveTo(px, a.top); ctx.lineTo(px, a.top + len); };
    const ht = (py, len) => { ctx.moveTo(a.left, py); ctx.lineTo(a.left + len, py); ctx.moveTo(a.right, py); ctx.lineTo(a.right - len, py); };
    const lo = xs.min * 0.999, hi = xs.max * 1.001;
    xDecades.forEach(d => {
      if (d >= lo && d <= hi) vt(Math.round(xs.getPixelForValue(d)) + 0.5, 6.5);
      xMinorFactors.forEach(f => { const v = d * f; if (v >= lo && v <= hi) vt(Math.round(xs.getPixelForValue(v)) + 0.5, 3.5); });
    });
    yTickValues.forEach(v => ht(Math.round(ys.getPixelForValue(v)) + 0.5, 7));
    yMinorValues.forEach(v => ht(Math.round(ys.getPixelForValue(v)) + 0.5, 4));
    ctx.stroke();
    ctx.lineWidth = 1.8; ctx.strokeStyle = '#161616';
    ctx.strokeRect(a.left, a.top, a.right - a.left, a.bottom - a.top);

    const L = P.legend;
    ctx.fillStyle = '#ffffff'; ctx.fillRect(L.x, L.y, L.w, L.h);
    ctx.strokeStyle = '#858585'; ctx.lineWidth = 1; ctx.strokeRect(L.x + 0.5, L.y + 0.5, L.w, L.h);
    let k = 0;
    P.series.forEach(s => {
      if (s.noLegend) return;
      const y = L.row0 + k * L.step; const st = STY[s.kind];
      drawMarker(ctx, st, L.markX, y, k === 0 ? 4.3 : 2.6);
      ctx.fillStyle = '#141414'; ctx.font = '14px ' + FF; ctx.textAlign = 'left'; ctx.textBaseline = 'middle';
      const txt = k === 0 ? s.label + ' \u03bcm' : s.label;
      ctx.fillText(txt, L.textX, y);
      if (k === 0) { const w = ctx.measureText(txt).width; ctx.font = '9px ' + FF; ctx.fillText('-1', L.textX + w + 0.5, y - 5); }
      k++;
    });

    const x1 = xs.getPixelForValue(P.arrow.from[0]), y1 = ys.getPixelForValue(P.arrow.from[1]);
    const x2 = xs.getPixelForValue(P.arrow.to[0]), y2 = ys.getPixelForValue(P.arrow.to[1]);
    const an = Math.atan2(y2 - y1, x2 - x1), hl = 12, hw = 4.8;
    ctx.strokeStyle = '#4472c4'; ctx.fillStyle = '#4472c4'; ctx.lineWidth = 1.6;
    ctx.beginPath(); ctx.moveTo(x1, y1); ctx.lineTo(x2 - Math.cos(an) * hl * 0.8, y2 - Math.sin(an) * hl * 0.8); ctx.stroke();
    ctx.beginPath(); ctx.moveTo(x2, y2);
    ctx.lineTo(x2 - Math.cos(an) * hl + Math.sin(an) * hw, y2 - Math.sin(an) * hl - Math.cos(an) * hw);
    ctx.lineTo(x2 - Math.cos(an) * hl - Math.sin(an) * hw, y2 - Math.sin(an) * hl + Math.cos(an) * hw);
    ctx.closePath(); ctx.fill();
    if (P.qLabel) {
      ctx.fillStyle = '#111'; ctx.font = '15px ' + FF; ctx.textAlign = 'center'; ctx.textBaseline = 'middle';
      ctx.fillText('q', xs.getPixelForValue(P.qLabel[0]), ys.getPixelForValue(P.qLabel[1]));
    }

    ctx.fillStyle = '#111'; ctx.font = 'bold 19px ' + FF; ctx.textAlign = 'center'; ctx.textBaseline = 'middle';
    ctx.fillText(P.letter, P.letterPos[0], P.letterPos[1]);
    drawNote(ctx, P.note[0], P.note[1], P.conc);

    if (P.yLabel) {
      ctx.textAlign = 'left'; ctx.textBaseline = 'alphabetic'; ctx.fillStyle = '#111';
      ctx.font = '19px ' + FF; ctx.fillText('C', 5, 18); let w = ctx.measureText('C').width;
      ctx.font = '13px ' + FF; ctx.fillText('VV', 5 + w + 0.5, 23); w += ctx.measureText('VV').width + 0.5;
      ctx.font = '19px ' + FF; ctx.fillText(' (t)', 5 + w, 18);
    }
    ctx.restore();
  }
};

function buildDatasets(series) {
  return series.map(s => {
    const st = STY[s.kind];
    const pts = [];
    for (let i = 0; i < tMs.length && i < s.values.length; i++) pts.push({ x: tMs[i], y: s.values[i] });
    return {
      label: s.label, data: pts,
      borderColor: st.color, backgroundColor: st.color, borderWidth: 1,
      pointStyle: st.img || st.ps, pointRotation: st.rot || 0,
      pointRadius: st.r, pointHoverRadius: st.r,
      pointBorderColor: st.color, pointBackgroundColor: 'rgba(255,255,255,0)', pointBorderWidth: 1,
      cubicInterpolationMode: 'monotone', fill: false
    };
  });
}

function makeChart(P) {
  DECOR[P.id] = P;
  return new Chart(document.getElementById(P.id), {
    type: 'line',
    data: { datasets: buildDatasets(P.series) },
    options: {
      responsive: false, animation: false, events: [],
      layout: { padding: P.pad },
      plugins: { legend: { display: false }, tooltip: { enabled: false } },
      scales: {
        x: {
          type: 'logarithmic', min: P.xMin, max: 1e5, display: P.showX, position: 'bottom',
          grid: { display: false, drawTicks: false }, border: { display: false },
          afterBuildTicks: sc => { sc.ticks = xLabelValues.map(v => ({ value: v })); },
          afterFit: sc => { sc.height = P.xAxisH || 0; },
          ticks: { autoSkip: false, maxRotation: 0, minRotation: 0, padding: 4, font: { size: 15 }, color: '#111',
                   callback: (v, i) => xTickLabels[i] },
          title: { display: true, text: xTitle, font: { size: 18 }, color: '#111', padding: { top: 0, bottom: 1 } }
        },
        y: {
          type: 'linear', min: -0.1, max: 0.9, display: P.showY,
          grid: { display: false, drawTicks: false }, border: { display: false },
          afterBuildTicks: sc => { sc.ticks = yTickValues.map(v => ({ value: v })); },
          afterFit: sc => { sc.width = P.yAxisW || 0; },
          ticks: { padding: 6, font: { size: 15 }, color: '#111', callback: (v, i) => yTickLabels[i] }
        }
      }
    },
    plugins: [decorPlugin]
  });
}

// ---------------- PANELS ----------------
makeChart({ id:'panelA', series: seriesA, xMin: 2.9e-4, showX: false, showY: true, yAxisW: 34,
  pad: { left: 0, top: 26, right: 526, bottom: 404 },
  legend: { x: 343, y: 55, w: 98, h: 199, markX: 362, textX: 383, row0: 66, step: 16.3 },
  arrow: { from: [0.62, 0.373], to: [0.00964, 0.248] }, qLabel: [1.25, 0.413],
  letter: panelLetters[0], letterPos: [92, 303], note: [297, 288], conc: concLabels[0], yLabel: true });

makeChart({ id:'panelB', series: seriesB, xMin: 2e-4, showX: false, showY: false,
  pad: { left: 545, top: 26, right: 23, bottom: 404 },
  legend: { x: 856, y: 71, w: 99, h: 167, markX: 876, textX: 897, row0: 81, step: 16.3 },
  arrow: { from: [0.561, 0.453], to: [0.0085, 0.313] },
  letter: panelLetters[1], letterPos: [602, 300], note: [814, 283], conc: concLabels[1] });

makeChart({ id:'panelC', series: seriesC, xMin: 2.2e-4, showX: true, showY: true, yAxisW: 33, xAxisH: 49,
  pad: { left: 0, top: 381, right: 532, bottom: 0 },
  legend: { x: 353, y: 398, w: 99, h: 199, markX: 373, textX: 390, row0: 409, step: 16.2 },
  arrow: { from: [1.16, 0.427], to: [0.01186, 0.285] },
  letter: panelLetters[2], letterPos: [87, 650], note: [310, 633], conc: concLabels[2] });

makeChart({ id:'panelD', series: seriesD, xMin: 2e-4, showX: true, showY: false, xAxisH: 49,
  pad: { left: 546, top: 381, right: 20, bottom: 0 },
  legend: { x: 874, y: 427, w: 99, h: 166, markX: 893, textX: 914, row0: 437, step: 16.3 },
  arrow: { from: [0.75, 0.424], to: [0.01153, 0.302] },
  letter: panelLetters[3], letterPos: [602, 649], note: [813, 638], conc: concLabels[3] });
</script>
</body>
</html>
